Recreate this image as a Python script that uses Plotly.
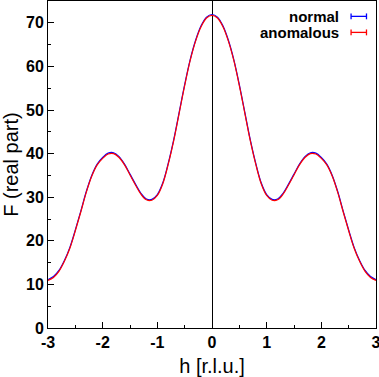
import plotly.graph_objects as go

h_values = [round(-3 + 0.1 * i, 1) for i in range(61)]

# right half (h = 0.0 ... 3.0)
normal_right = [71.9, 71.3, 69.3, 66.0, 61.5, 55.8, 49.5, 43.2, 37.8, 33.3,
                30.6, 29.5, 29.6, 30.9, 33.0, 35.3, 37.6, 39.3, 40.2, 40.1,
                39.1, 37.6, 35.0, 31.3, 26.8, 22.5, 18.5, 15.5, 13.2, 11.8, 11.1]
anomalous_right = [71.7, 71.1, 69.1, 65.8, 61.3, 55.6, 49.3, 43.0, 37.6, 33.1,
                   30.4, 29.3, 29.4, 30.7, 32.8, 35.1, 37.4, 39.1, 40.0, 39.9,
                   38.9, 37.4, 34.8, 31.1, 26.6, 22.3, 18.3, 15.3, 13.0, 11.6, 10.9]

normal_F = normal_right[:0:-1] + normal_right
anomalous_F = anomalous_right[:0:-1] + anomalous_right

x_ticks = [-3, -2, -1, 0, 1, 2, 3]
y_ticks = [0, 10, 20, 30, 40, 50, 60, 70]
legend_names = ["normal", "anomalous"]
legend_colors = ["#0000ff", "#ff0000"]

fig = go.Figure()
fig.add_trace(go.Scatter(x=h_values, y=normal_F, mode="lines", name="normal",
                         line=dict(color="#0000ff", width=1.2, shape="spline")))
fig.add_trace(go.Scatter(x=h_values, y=anomalous_F, mode="lines", name="anomalous",
                         line=dict(color="#ff0000", width=1.2, shape="spline")))

font_family = "Liberation Sans, Arial, sans-serif"

# legend drawn manually (symbol to the right of text, gnuplot style)
leg_y = [0.953, 0.904]
for name, col, yy in zip(legend_names, legend_colors, leg_y):
    fig.add_annotation(xref="paper", yref="paper", x=0.893, y=yy, text=name,
                       showarrow=False, xanchor="right", yanchor="middle",
                       font=dict(family=font_family, size=15, color="black", weight="bold"))
    fig.add_shape(type="line", xref="paper", yref="paper", x0=0.924, x1=0.971,
                  y0=yy, y1=yy, line=dict(color=col, width=1.3))
    for xx in (0.924, 0.971):
        fig.add_shape(type="line", xref="paper", yref="paper", x0=xx, x1=xx,
                      y0=yy - 0.009, y1=yy + 0.009, line=dict(color=col, width=1.3))

fig.update_layout(
    width=379, height=377,
    margin=dict(l=48, r=3, t=1, b=49),
    paper_bgcolor="white", plot_bgcolor="white",
    showlegend=False,
    font=dict(family=font_family, color="black"),
)
fig.update_xaxes(
    range=[-3, 3], tickvals=x_ticks, ticktext=[str(v) for v in x_ticks],
    ticks="inside", ticklen=6, tickcolor="black", tickwidth=1,
    minor=dict(dtick=0.5, ticks="inside", ticklen=3, tickcolor="black"),
    showline=True, linecolor="black", linewidth=1, mirror=True,
    showgrid=False, zeroline=True, zerolinecolor="black", zerolinewidth=1,
    automargin=False, ticklabeloverflow="allow",
    tickfont=dict(family=font_family, size=16, weight="bold"),
    title=dict(text="h [r.l.u.]", font=dict(family=font_family, size=20), standoff=8),
)
fig.update_yaxes(
    range=[0, 75], tickvals=y_ticks, ticktext=[str(v) for v in y_ticks],
    ticks="inside", ticklen=6, tickcolor="black", tickwidth=1,
    minor=dict(dtick=5, ticks="inside", ticklen=3, tickcolor="black"),
    showline=True, linecolor="black", linewidth=1, mirror=True,
    showgrid=False, zeroline=False, automargin=False, ticklabeloverflow="allow",
    tickfont=dict(family=font_family, size=16, weight="bold"),
    title=dict(text="F (real part)", font=dict(family=font_family, size=20), standoff=4),
)

fig.write_html("out.html", config={"displayModeBar": False},
               post_script="document.body.style.margin='0';document.body.style.overflow='hidden';")
